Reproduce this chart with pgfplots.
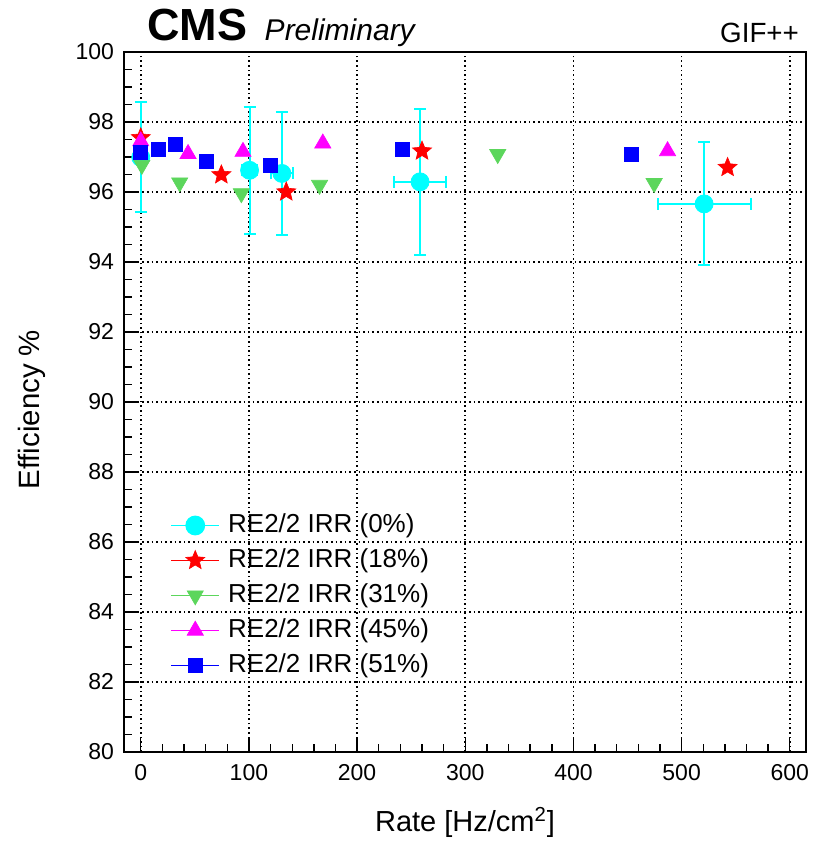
\documentclass[border=0pt]{standalone}
\usepackage{fontspec}
\setmainfont{Liberation Sans}
\usepackage{pgfplots}
\pgfplotsset{compat=1.18}
\definecolor{rcyan}{RGB}{0,255,255}
\definecolor{rred}{RGB}{255,0,0}
\definecolor{rgreen}{RGB}{92,214,92}
\definecolor{rmag}{RGB}{255,0,255}
\definecolor{rblue}{RGB}{0,0,255}
\pgfdeclareplotmark{fstar}{%
  \pgfpathmoveto{\pgfpointpolar{90}{1\pgfplotmarksize}}%
  \pgfpathlineto{\pgfpointpolar{126}{0.45\pgfplotmarksize}}%
  \pgfpathlineto{\pgfpointpolar{162}{1\pgfplotmarksize}}%
  \pgfpathlineto{\pgfpointpolar{198}{0.45\pgfplotmarksize}}%
  \pgfpathlineto{\pgfpointpolar{234}{1\pgfplotmarksize}}%
  \pgfpathlineto{\pgfpointpolar{270}{0.45\pgfplotmarksize}}%
  \pgfpathlineto{\pgfpointpolar{306}{1\pgfplotmarksize}}%
  \pgfpathlineto{\pgfpointpolar{342}{0.45\pgfplotmarksize}}%
  \pgfpathlineto{\pgfpointpolar{18}{1\pgfplotmarksize}}%
  \pgfpathlineto{\pgfpointpolar{54}{0.45\pgfplotmarksize}}%
  \pgfpathclose\pgfusepathqfillstroke}
\pgfplotstableread{
x y ex ey
0 96.99 0 1.57
100.6 96.62 7 1.82
130.5 96.53 10 1.76
258.2 96.29 24 2.09
520.8 95.66 43 1.76
}\tzero
\pgfplotstableread{
x y
0 97.55
74.5 96.49
134.5 96.00
260 97.17
542.5 96.70
}\teighteen
\pgfplotstableread{
x y
1 96.77
36 96.27
93 95.96
165.3 96.20
330 97.08
474.6 96.25
}\tthirtyone
\pgfplotstableread{
x y
0 97.45
43.7 97.09
94.5 97.15
168.3 97.39
487 97.17
}\tfortyfive
\pgfplotstableread{
x y
0 97.13
16 97.23
32.3 97.36
60.6 96.87
120 96.77
241.6 97.22
453.6 97.08
}\tfiftyone
\begin{document}
\begin{tikzpicture}
\begin{axis}[
  scale only axis, width=341pt, height=350pt,
  xmin=-15.5, xmax=615, ymin=80, ymax=100,
  xtick={0,100,...,600}, ytick={80,82,...,100},
  minor x tick num=4, minor y tick num=3,
  tick pos=left, tick align=inside,
  major tick length=7.5pt, minor tick length=4pt,
  axis line style={line width=1pt},
  every tick/.style={black, line width=0.7pt},
  grid=major,
  major grid style={black, line width=0.8pt, dash pattern=on 0.8pt off 1.5pt},
  /pgf/number format/assume math mode=true,
  ticklabel style={font=\fontsize{11.5}{13}\selectfont},
  yticklabel style={xshift=-1.5pt},
  xticklabel style={yshift=-2.5pt},
  xlabel={Rate [Hz/cm\textsuperscript{2}]},
  xlabel style={font=\fontsize{14.5}{16}\selectfont, at={(axis description cs:0.5,-0.114)}, anchor=base},
  ylabel={Efficiency \%},
  ylabel style={font=\fontsize{14.7}{16}\selectfont, at={(axis description cs:-0.135,0.489)}, anchor=center},
  legend cell align=left,
  legend image code/.code={\draw[#1, sharp plot, line width=0.9pt, mark repeat=2, mark phase=2] plot coordinates {(0pt,0pt) (12pt,0pt) (24pt,0pt)};},
  legend style={at={(axis description cs:0.0674,0.342)}, anchor=north west, draw=none, fill=none,
    font=\fontsize{13}{15}\selectfont, inner sep=0pt, row sep=5pt,
    nodes={inner sep=0pt, text height=9.5pt, text depth=3pt},
    /tikz/every odd column/.append style={column sep=4pt}},
  clip=false,
]
\addplot[only marks, color=rcyan, mark=*, mark size=4.5pt,
  error bars/.cd, x dir=both, x explicit, y dir=both, y explicit,
  error mark=-,
  error bar style={rcyan, line width=1pt},
  error mark options={rotate=90, rcyan, line width=1pt, mark size=3pt}]
  table[x=x, y=y, x error=ex, y error=ey] {\tzero};
\addlegendentry{RE2/2 IRR (0\%)}
\addplot[only marks, color=rred, mark=fstar, mark size=5pt, mark options={line width=0.3pt}]
  table[x=x, y=y] {\teighteen};
\addlegendentry{RE2/2 IRR (18\%)}
\addplot[only marks, color=rgreen, mark=triangle*, mark size=4.7pt, mark options={rotate=180, line width=0.3pt}]
  table[x=x, y=y] {\tthirtyone};
\addlegendentry{RE2/2 IRR (31\%)}
\addplot[only marks, color=rmag, mark=triangle*, mark size=4.7pt, mark options={line width=0.3pt}]
  table[x=x, y=y] {\tfortyfive};
\addlegendentry{RE2/2 IRR (45\%)}
\addplot[only marks, color=rblue, mark=square*, mark size=3.5pt, mark options={line width=0.3pt}]
  table[x=x, y=y] {\tfiftyone};
\addlegendentry{RE2/2 IRR (51\%)}
\node[anchor=base west, font=\fontsize{22.5}{24}\selectfont\bfseries] at (axis description cs:0.0235,1.017) {CMS};
\node[anchor=base west, font=\fontsize{15}{17}\selectfont\itshape] at (axis description cs:0.196,1.017) {Preliminary};
\node[anchor=base east, font=\fontsize{13.9}{15}\selectfont] at (axis description cs:1.0,1.014) {GIF++};
\end{axis}
\pgfresetboundingbox
\path[use as bounding box] ([shift={(-62pt,-46pt)}]current axis.south west) rectangle ([shift={(3.5pt,26pt)}]current axis.north east);
\end{tikzpicture}
\end{document}
